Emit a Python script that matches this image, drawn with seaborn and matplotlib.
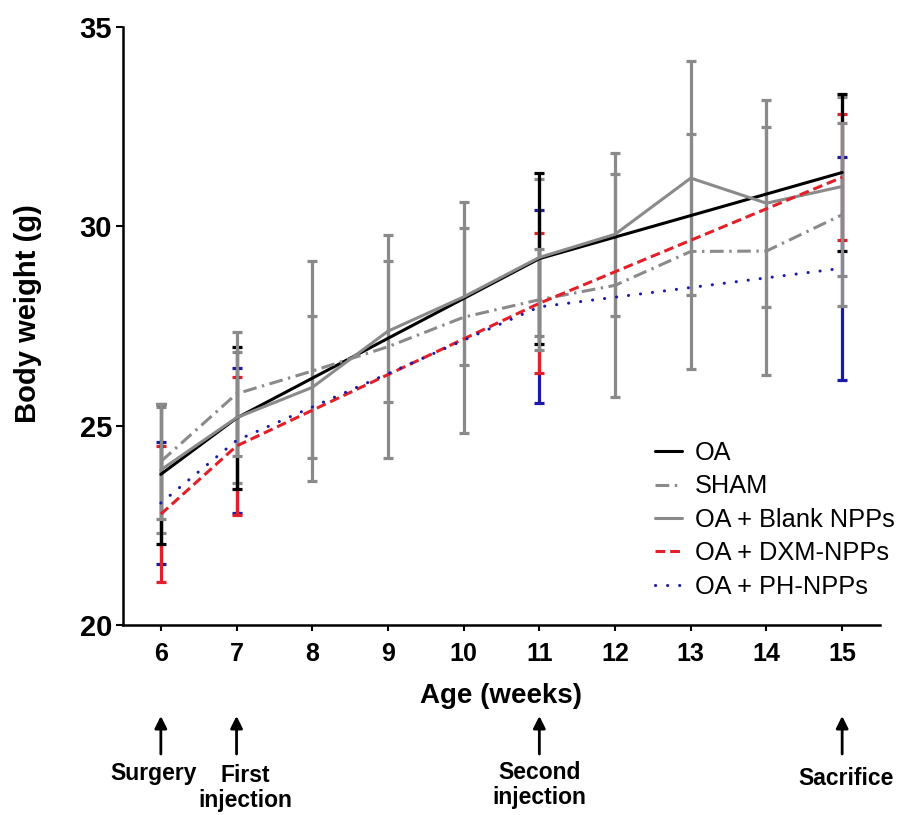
import numpy as np
import pandas as pd
import matplotlib
matplotlib.use("Agg")
import matplotlib.pyplot as plt
import matplotlib.transforms as mtransforms
import seaborn as sns

# data (mean and SD, body weight in g)
weeks_all = [6, 7, 8, 9, 10, 11, 12, 13, 14, 15]
weeks_sel = [6, 7, 11, 15]

oa_mean = [23.78, 25.19, 29.19, 31.35]
oa_sd = [1.76, 1.78, 2.14, 1.96]

sham_mean = [24.10, 25.80, 26.37, 26.98, 27.72, 28.16, 28.52, 29.37, 29.38, 30.29]
sham_sd = [1.44, 1.56, 2.75, 2.80, 2.90, 1.26, 2.79, 2.94, 3.12, 2.29]

blank_mean = [23.89, 25.20, 25.96, 27.37, 28.23, 29.22, 29.80, 31.21, 30.58, 31.00]
blank_sd = [1.57, 1.65, 1.78, 1.77, 1.72, 1.96, 2.05, 2.94, 2.60, 2.25]

dxm_mean = [22.78, 24.49, 28.07, 31.23]
dxm_sd = [1.70, 1.73, 1.76, 1.58]

ph_mean = [23.06, 24.63, 27.98, 28.95]
ph_sd = [1.53, 1.81, 2.42, 2.80]

event_weeks = [6, 7, 11, 15]
event_labels = ["Surgery", "First\ninjection", "Second\ninjection", "Sacrifice"]

sns.set_style("ticks")
plt.rcParams["font.family"] = ["Liberation Sans", "DejaVu Sans"]
plt.rcParams.update({
    "text.color": "black",
    "axes.labelcolor": "black",
    "axes.edgecolor": "black",
    "xtick.color": "black",
    "ytick.color": "black",
})

gray = "#8a8a8a"
red = "#e3202a"
blue = "#1a1aa8"

# label, x, mean, sd, color, linestyle, capstyle, errorbar zorder
series = [
    ("OA", weeks_sel, oa_mean, oa_sd, "black", "-", "butt", 2.4),
    ("SHAM", weeks_all, sham_mean, sham_sd, gray, (0, (4.5, 1.8, 0.8, 1.8)), "butt", 2.5),
    ("OA + Blank NPPs", weeks_all, blank_mean, blank_sd, gray, "-", "butt", 2.3),
    ("OA + DXM-NPPs", weeks_sel, dxm_mean, dxm_sd, red, (0, (3.2, 1.6)), "butt", 2.2),
    ("OA + PH-NPPs", weeks_sel, ph_mean, ph_sd, blue, (0, (0.05, 3.9)), "round", 2.1),
]

fig = plt.figure(figsize=(9.03, 8.15), dpi=100)
ax = fig.add_axes([123 / 903, 1 - 625 / 815, 757 / 903, 598 / 815])

for label, x, m, s, c, ls, cap, ez in series:
    ax.errorbar(x, m, yerr=s, fmt="none", ecolor=c, elinewidth=2.3,
                capsize=3.3, capthick=2.3, zorder=ez)
    df = pd.DataFrame({"week": x, "weight": m})
    sns.lineplot(data=df, x="week", y="weight", ax=ax, color=c, linestyle=ls,
                 linewidth=2.2, dash_capstyle=cap, label=label, zorder=3)

ax.set_xlim(5.5, 15.5)
ax.set_ylim(20, 35)
ax.set_xticks(weeks_all)
ax.set_xticklabels([str(w) for w in weeks_all], fontsize=18, fontweight="bold")
ax.set_yticks([20, 25, 30, 35])
ax.set_yticklabels(["20", "25", "30", "35"], fontsize=21, fontweight="bold")
ax.tick_params(axis="y", length=5, width=1.5, pad=3)
ax.tick_params(axis="x", length=4, width=1.5, pad=8)
for sp in ["left", "bottom"]:
    ax.spines[sp].set_linewidth(1.8)
sns.despine(ax=ax)

ax.set_xlabel("Age (weeks)", fontsize=20, fontweight="bold", va="top")
ax.xaxis.set_label_coords(0.5, -0.097)
ax.set_ylabel("Body weight (g)", fontsize=21, fontweight="bold")
ax.yaxis.set_label_coords(-0.107, 0.52)

ax.legend(loc="upper left", bbox_to_anchor=(655 / 903, 1 - 441 / 815),
          bbox_transform=fig.transFigure, frameon=False, fontsize=18.3,
          handlelength=1.06, handletextpad=0.5, labelspacing=0.37,
          borderpad=0, borderaxespad=0)

# event arrows under the axis
trans = mtransforms.blended_transform_factory(ax.transData, fig.transFigure)
text_x = [5.9, 7.12, 11.0, 15.05]
text_top = [762, 764, 761, 767]
for w, lab, tx, ty in zip(event_weeks, event_labels, text_x, text_top):
    ax.annotate("", xy=(w, 1 - 716 / 815), xytext=(w, 1 - 754 / 815),
                xycoords=trans, textcoords=trans,
                arrowprops=dict(arrowstyle="-|>", color="black", lw=2,
                                mutation_scale=18, shrinkA=0, shrinkB=0),
                annotation_clip=False)
    ax.text(tx, 1 - ty / 815, lab, transform=trans,
            ha="center", va="top", fontsize=16.5, fontweight="bold",
            linespacing=1.1)

fig.savefig("out.png", dpi=100)
